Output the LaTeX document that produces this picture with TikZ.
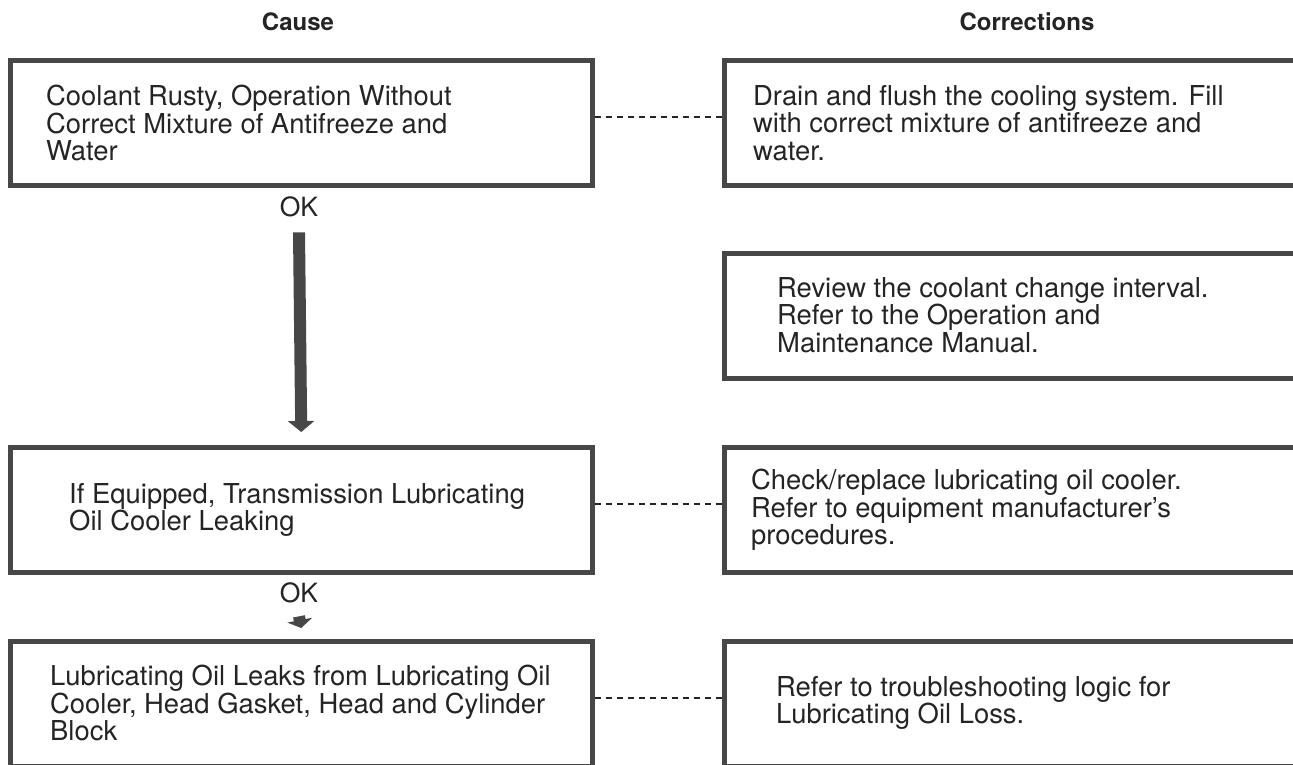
\documentclass[tikz,border=0pt]{standalone}
\usepackage{fontspec}
\setmainfont{TeX Gyre Heros}
\usetikzlibrary{arrows.meta}
\definecolor{frame}{HTML}{474747}
\definecolor{ink}{HTML}{242424}
\begin{document}
\begin{tikzpicture}[x=1pt,y=-1pt,
  box/.style={draw=frame, line width=4.5pt, anchor=north west, inner sep=0pt},
  causebox/.style={box, minimum width=582pt, minimum height=125pt},
  fixbox/.style={box, minimum width=620pt, minimum height=125pt},
  txt/.style={anchor=west, align=left, inner sep=0pt, text=ink,
    font=\fontsize{27.4}{27.5}\selectfont},
  title/.style={inner sep=0pt, text=ink, font=\fontsize{24}{28}\selectfont\bfseries},
  oklabel/.style={inner sep=0pt, text=ink, font=\fontsize{26.5}{28}\selectfont},
  link/.style={draw=ink, line width=2.2pt, dash pattern=on 6pt off 5pt},
  flow/.style={draw=frame, line width=12pt, -{Triangle[width=26pt,length=11pt]}},
  shortflow/.style={draw=frame, line width=12pt, -{Triangle[width=25pt,length=8pt]}},
]
\useasboundingbox (0,0) rectangle (1293,764);
\clip (0,0) rectangle (1293,764);

% column headings
\node[title] (hcause) at (298,22) {Cause};
\node[title] (hfix) at (1027,22) {Corrections};

% cause column
\node[causebox] (c1) at (8,58) {};
\node[causebox] (c2) at (8,445) {};
\node[causebox] (c3) at (8,639) {};

% corrections column (runs past the right edge)
\node[fixbox] (r1) at (722,58) {};
\node[fixbox] (r2) at (722,251) {};
\node[fixbox] (r3) at (722,445) {};
\node[fixbox] (r4) at (722,639) {};

% box texts
\node[txt] (c1t) at (46,123) {Coolant Rusty, Operation Without\\Correct Mixture of Antifreeze and\\Water};
\node[txt] (c2t) at (69,510) {If Equipped, Transmission Lubricating\\Oil Cooler Leaking};
\node[txt] (c3t) at (50,703) {Lubricating Oil Leaks from Lubricating Oil\\Cooler, Head Gasket, Head and Cylinder\\Block};
\node[txt] (r1t) at (753,123) {Drain and flush the cooling system. Fill\\with correct mixture of antifreeze and\\water.};
\node[txt] (r2t) at (777,315) {Review the coolant change interval.\\Refer to the Operation and\\Maintenance Manual.};
\node[txt] (r3t) at (751,510) {Check/replace lubricating oil cooler.\\Refer to equipment manufacturer's\\procedures.};
\node[txt] (r4t) at (776,703) {Refer to troubleshooting logic for\\Lubricating Oil Loss.};

% OK labels and flow arrows
\node[oklabel] (ok1) at (299,207) {OK};
\node[oklabel] (ok2) at (299,593) {OK};
\draw[flow] (ok1.south) ++(0,15) -- ([yshift=13pt]c2.north);
\draw[shortflow] (ok2.south) ++(0,13) -- ([yshift=11pt]c3.north);

% dashed links from causes to corrections
\draw[link] ([yshift=6pt]c1.east) -- ([yshift=6pt]r1.west);
\draw[link] ([yshift=6pt]c2.east) -- ([yshift=6pt]r3.west);
\draw[link] ([yshift=6pt]c3.east) -- ([yshift=6pt]r4.west);
\end{tikzpicture}
\end{document}
